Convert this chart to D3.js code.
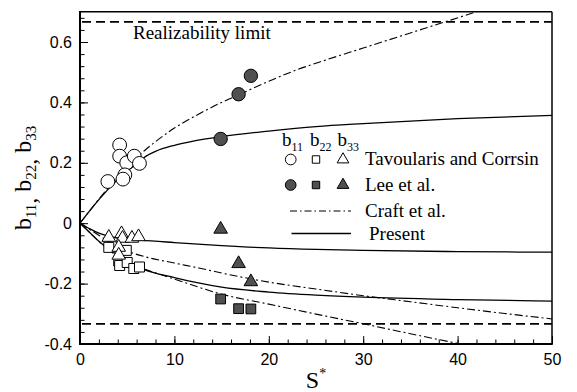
<!DOCTYPE html>
<html>
<head>
<meta charset="utf-8">
<script src="https://cdn.jsdelivr.net/npm/d3@7"></script>
<style>
  html, body { margin: 0; padding: 0; background: #fff; }
  svg { display: block; }
  .tick text { font-family: "Liberation Sans", Arial, sans-serif; font-size: 16px; fill: #000; }
  .serif { font-family: "Liberation Serif", "Times New Roman", serif; fill: #000; }
</style>
</head>
<body>
<svg id="chart" width="577" height="392"></svg>
<script>
// Anisotropy tensor components versus S* (homogeneous shear flow)

// Tavoularis and Corrsin measurements: [S*, value]
const tcB11 = [[2.95,0.138],[4.2,0.259],[4.2,0.222],[4.95,0.2],[5.75,0.222],[6.3,0.198],[4.75,0.16],[4.55,0.146]];
const tcB22 = [[3.05,-0.08],[4.9,-0.09],[4.1,-0.125],[4.2,-0.14],[5.0,-0.13],[5.7,-0.15],[6.3,-0.145]];
const tcB33 = [[3.05,-0.047],[4.4,-0.035],[4.5,-0.05],[5.5,-0.05],[6.2,-0.045],[4.1,-0.08],[4.1,-0.106]];

// Lee et al. DNS
const leeS   = [14.9, 16.8, 18.1];
const leeB11 = [0.279, 0.427, 0.488];
const leeB22 = [-0.251, -0.283, -0.284];
const leeB33 = [-0.02, -0.134, -0.194];

// Craft et al. model predictions
const craftB11 = [[0,0],[1,0.04],[2,0.08],[3,0.118],[4,0.153],[5,0.186],[6,0.216],[7,0.245],[8,0.27],[10,0.315],[12.5,0.36],[15,0.4],[17,0.428],[20,0.47],[22.9,0.507],[26,0.54],[30,0.58],[35,0.63],[38.5,0.665],[42,0.7],[44,0.72]];
const craftB22 = [[0,0],[1,-0.03],[2,-0.06],[3,-0.088],[4,-0.11],[5,-0.128],[7.4,-0.158],[10,-0.185],[15,-0.235],[20,-0.268],[25,-0.301],[30,-0.333],[35,-0.366],[40,-0.398],[42,-0.41]];
const craftB33 = [[0,0],[1,-0.02],[2,-0.04],[3,-0.06],[4,-0.077],[5,-0.092],[7,-0.112],[10,-0.132],[12.7,-0.149],[15,-0.165],[20,-0.195],[25,-0.218],[30,-0.24],[35,-0.26],[40,-0.28],[45,-0.299],[50,-0.317]];

// Present model predictions
const presB11 = [[0,0],[1,0.04],[2,0.078],[3,0.113],[4,0.145],[5,0.172],[6,0.197],[7,0.222],[8,0.238],[10,0.258],[12,0.272],[15,0.287],[20,0.305],[25,0.32],[30,0.33],[40,0.346],[50,0.357]];
const presB22 = [[0,0],[1,-0.03],[2,-0.06],[3,-0.085],[4,-0.105],[5,-0.125],[6.7,-0.152],[10,-0.18],[12.4,-0.197],[15,-0.212],[20,-0.228],[25,-0.238],[30,-0.245],[40,-0.253],[50,-0.258]];
const presB33 = [[0,0],[1,-0.018],[2,-0.033],[3,-0.043],[4,-0.049],[5.3,-0.053],[6.4,-0.056],[10,-0.064],[15,-0.074],[20,-0.082],[25,-0.087],[30,-0.09],[40,-0.094],[50,-0.096]];

// Realizability bounds
const limits = [2/3, -1/3];

// Axis ticks
const xMajor = [0, 10, 20, 30, 40, 50];
const xMinor = d3.range(0, 50.01, 2);
const yMajor = [-0.4, -0.2, 0, 0.2, 0.4, 0.6];
const yMajorLabels = ["-0.4", "-0.2", "0", "0.2", "0.4", "0.6"];
const yMinor = d3.range(-0.4, 0.7, 0.04);

const svg = d3.select("#chart");
const L = 80, R = 552, T = 11.8, B = 344;

const x = d3.scaleLinear().domain([0, 50]).range([L, R]);
const y = d3.scaleLinear().domain([-0.4, 0.7]).range([B, T]);

svg.append("defs").append("clipPath").attr("id", "plotClip")
  .append("rect").attr("x", L).attr("y", T).attr("width", R - L).attr("height", B - T);

const plot = svg.append("g").attr("clip-path", "url(#plotClip)");

// realizability limit lines
plot.selectAll("line.limit").data(limits).join("line")
  .attr("class", "limit")
  .attr("x1", x(0) + 2).attr("x2", x(50))
  .attr("y1", d => y(d)).attr("y2", d => y(d))
  .attr("stroke", "#000").attr("stroke-width", 1.6)
  .attr("stroke-dasharray", "9,5");

const line = d3.line().x(d => x(d[0])).y(d => y(d[1])).curve(d3.curveMonotoneX);
const dashDot = "8,3,2,3";

[craftB11, craftB22, craftB33].forEach(s => {
  plot.append("path").attr("d", line(s)).attr("fill", "none")
    .attr("stroke", "#000").attr("stroke-width", 1.1).attr("stroke-dasharray", dashDot);
});
[presB11, presB22, presB33].forEach(s => {
  plot.append("path").attr("d", line(s)).attr("fill", "none")
    .attr("stroke", "#000").attr("stroke-width", 1.3);
});

// marker drawing helpers
const circleSym = d3.symbol().type(d3.symbolCircle);
const squareSym = d3.symbol().type(d3.symbolSquare);
const triSym = d3.symbol().type(d3.symbolTriangle);
const DARK = "#505050";

function markers(g, pts, sym, size, fill) {
  g.selectAll(null).data(pts).join("path")
    .attr("transform", d => `translate(${x(d[0])},${y(d[1])})`)
    .attr("d", sym.size(size)())
    .attr("fill", fill).attr("stroke", "#000").attr("stroke-width", 1);
}

const mk = svg.append("g");
markers(mk, tcB22, squareSym, 100, "#fff");
markers(mk, tcB33, triSym, 80, "#fff");
markers(mk, tcB11, circleSym, 150, "#fff");
markers(mk, leeS.map((s, i) => [s, leeB11[i]]), circleSym, 140, DARK);
markers(mk, leeS.map((s, i) => [s, leeB22[i]]), squareSym, 95, DARK);
markers(mk, leeS.map((s, i) => [s, leeB33[i]]), triSym, 80, DARK);

// axes with inward ticks
function yAxis(ticks, size, labels) {
  const a = d3.axisLeft(y).tickValues(ticks).tickSize(-size).tickPadding(8);
  a.tickFormat(labels ? (d, i) => labels[i] : () => "");
  return a;
}
function xAxis(ticks, size, labels) {
  const a = d3.axisBottom(x).tickValues(ticks).tickSize(-size).tickPadding(10);
  a.tickFormat(labels ? d => String(d) : () => "");
  return a;
}
const styleAxis = g => {
  g.select(".domain").remove();
  g.selectAll(".tick line").attr("stroke", "#000").attr("stroke-width", 1);
};
svg.append("g").attr("transform", `translate(${L},0)`).call(yAxis(yMinor, 4.5, null)).call(styleAxis);
svg.append("g").attr("transform", `translate(${L},0)`).call(yAxis(yMajor, 8, yMajorLabels)).call(styleAxis);
svg.append("g").attr("transform", `translate(0,${B})`).call(xAxis(xMinor, 4.5, null)).call(styleAxis);
svg.append("g").attr("transform", `translate(0,${B})`).call(xAxis(xMajor, 8, true)).call(styleAxis);

// frame
svg.append("line").attr("x1", L).attr("x2", R).attr("y1", T).attr("y2", T).attr("stroke", "#000").attr("stroke-width", 1.5);
svg.append("line").attr("x1", R).attr("x2", R).attr("y1", T).attr("y2", B).attr("stroke", "#000").attr("stroke-width", 1.5);
svg.append("line").attr("x1", L).attr("x2", L).attr("y1", T - 0.75).attr("y2", B + 1).attr("stroke", "#000").attr("stroke-width", 2);
svg.append("line").attr("x1", L - 1).attr("x2", R + 0.75).attr("y1", B).attr("y2", B).attr("stroke", "#000").attr("stroke-width", 2);

// realizability label
svg.append("text").attr("class", "serif").attr("x", 133).attr("y", 38.5)
  .attr("font-size", 19).text("Realizability limit");

// axis titles
const xt = svg.append("text").attr("class", "serif").attr("x", x(25)).attr("y", 388)
  .attr("text-anchor", "middle").attr("font-size", 24);
xt.append("tspan").text("S");
xt.append("tspan").attr("font-size", 14).attr("dy", -10).text("*");

const yt = svg.append("text").attr("class", "serif")
  .attr("transform", `translate(31,${(T + B) / 2}) rotate(-90)`)
  .attr("text-anchor", "middle").attr("font-size", 24);
["11", "22", "33"].forEach((sub, i) => {
  yt.append("tspan").attr("dy", i === 0 ? 0 : -5).text((i === 0 ? "" : " ") + "b");
  yt.append("tspan").attr("font-size", 15).attr("dy", 5).text(sub);
  if (i < 2) yt.append("tspan").text(",");
});

// legend
const lg = svg.append("g");
const hdr = [["11", 282], ["22", 310], ["33", 337.5]];
hdr.forEach(([sub, hx]) => {
  const t = lg.append("text").attr("class", "serif").attr("x", hx).attr("y", 146).attr("font-size", 19);
  t.append("tspan").text("b");
  t.append("tspan").attr("font-size", 12).attr("dy", 5).text(sub);
});
const legendSyms = [circleSym, squareSym, triSym];
const legendX = [290.7, 316, 343];
const legendSizes = [90, 55, 60];
[[159.5, "#fff", "Tavoularis and Corrsin"], [185, DARK, "Lee et al."]].forEach(([ly, fill, label]) => {
  legendSyms.forEach((sym, i) => {
    lg.append("path").attr("transform", `translate(${legendX[i]},${ly})`)
      .attr("d", sym.size(legendSizes[i])()).attr("fill", fill)
      .attr("stroke", "#000").attr("stroke-width", 1);
  });
  lg.append("text").attr("class", "serif").attr("x", 365).attr("y", ly + 5.5)
    .attr("font-size", 19).text(label);
});
lg.append("line").attr("x1", 290).attr("x2", 351).attr("y1", 211).attr("y2", 211)
  .attr("stroke", "#000").attr("stroke-width", 1.1).attr("stroke-dasharray", "7,3,1.5,3");
lg.append("text").attr("class", "serif").attr("x", 365).attr("y", 217).attr("font-size", 19).text("Craft et al.");
lg.append("line").attr("x1", 291.5).attr("x2", 351).attr("y1", 233.5).attr("y2", 233.5)
  .attr("stroke", "#000").attr("stroke-width", 1.3);
lg.append("text").attr("class", "serif").attr("x", 369).attr("y", 240).attr("font-size", 19).text("Present");
</script>
</body>
</html>
